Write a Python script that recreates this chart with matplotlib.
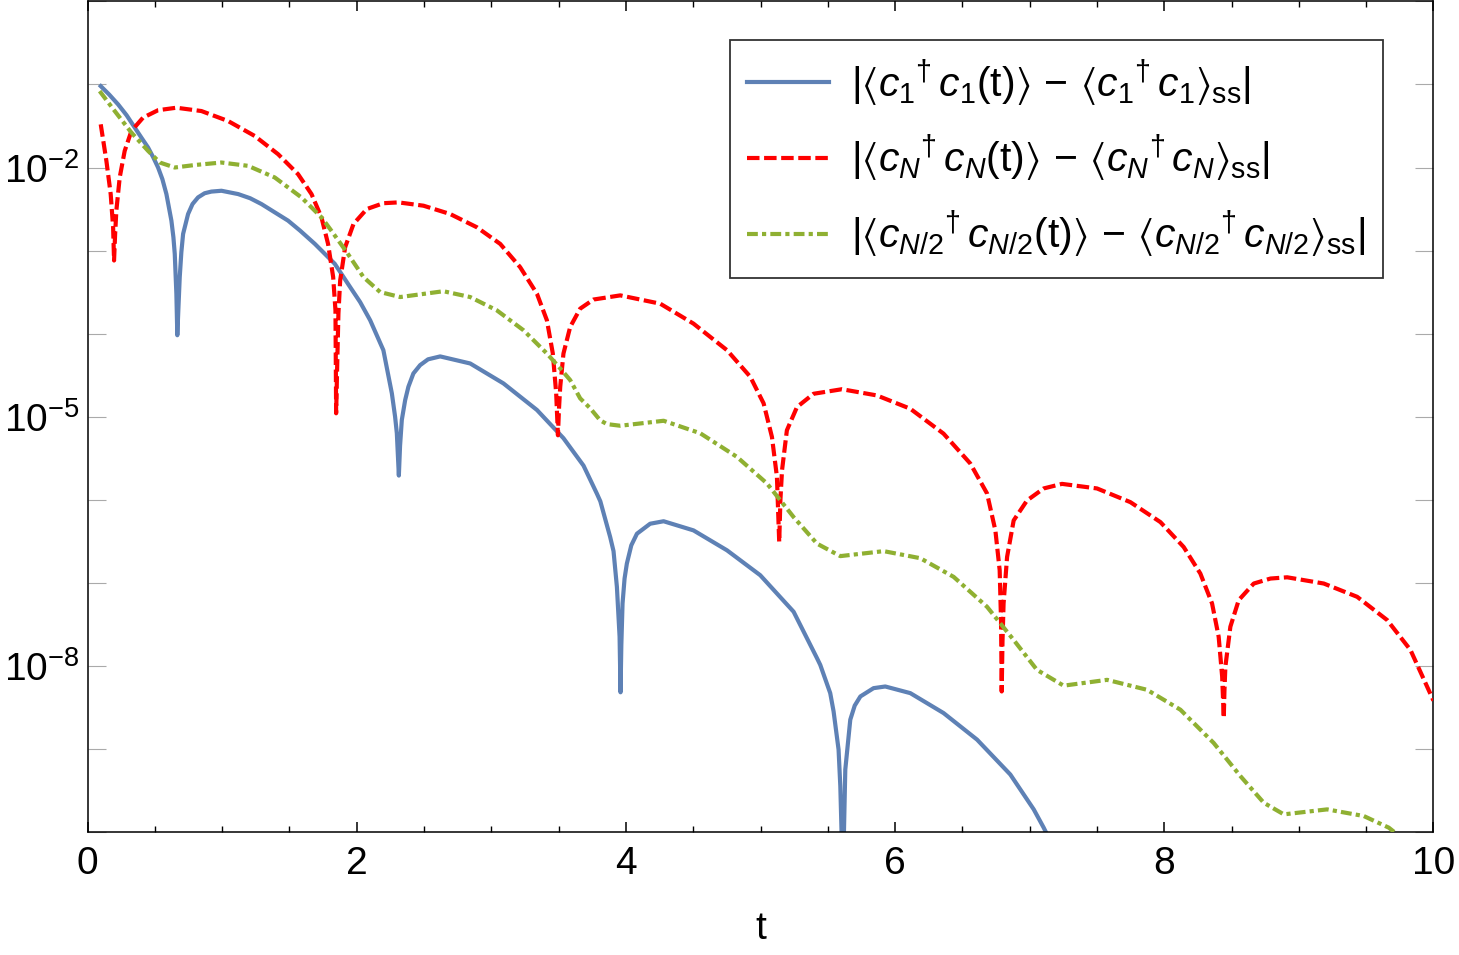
import numpy as np
import matplotlib

matplotlib.use("Agg")
import matplotlib.pyplot as plt
from matplotlib.ticker import FixedLocator, NullFormatter, FixedFormatter

# values: time t and log10 of the deviation
t_c1 = [0.098, 0.16, 0.227, 0.29, 0.351, 0.40, 0.45, 0.489, 0.524, 0.556,
        0.586, 0.623, 0.638, 0.648, 0.66, 0.667, 0.675, 0.685, 0.697, 0.71,
        0.747, 0.78, 0.821, 0.87, 0.92, 0.995, 1.119, 1.208, 1.292, 1.49,
        1.579, 1.689, 1.837, 1.951, 2.025, 2.1, 2.198, 2.261, 2.285, 2.298,
        2.313, 2.322, 2.335, 2.36, 2.384, 2.421, 2.471, 2.53, 2.62, 2.843,
        3.09, 3.339, 3.536, 3.685, 3.785, 3.81, 3.883, 3.908, 3.933, 3.953,
        3.960, 3.966, 3.975, 3.99, 4.007, 4.04, 4.082, 4.18, 4.28, 4.502,
        4.751, 4.998, 5.246, 5.42, 5.444, 5.518, 5.543, 5.58, 5.593, 5.612,
        5.63, 5.667, 5.70, 5.742, 5.84, 5.927, 6.113, 6.36, 6.609, 6.856,
        7.03, 7.104, 7.15]
logy_c1 = [-1.02, -1.12, -1.24, -1.37, -1.52, -1.64, -1.76, -1.88, -2.0, -2.14,
           -2.32, -2.64, -2.84, -3.04, -3.52, -4.02, -3.7, -3.32, -3.02, -2.80,
           -2.56, -2.44, -2.36, -2.31, -2.29, -2.28, -2.32, -2.37, -2.44, -2.64,
           -2.76, -2.92, -3.16, -3.44, -3.62, -3.84, -4.20, -4.72, -5.0, -5.20,
           -5.71, -5.35, -5.04, -4.80, -4.64, -4.48, -4.38, -4.31, -4.275, -4.36,
           -4.60, -4.92, -5.26, -5.59, -5.93, -6.02, -6.45, -6.62, -7.05, -7.65,
           -8.32, -7.75, -7.25, -6.95, -6.77, -6.55, -6.41, -6.29, -6.26, -6.37,
           -6.61, -6.91, -7.35, -7.91, -7.99, -8.33, -8.55, -9.01, -9.45, -10.6,
           -9.25, -8.65, -8.48, -8.37, -8.27, -8.25, -8.33, -8.57, -8.89, -9.31,
           -9.73, -9.95, -10.1]

t_cN = [0.098, 0.14, 0.172, 0.19, 0.197, 0.205, 0.214, 0.239, 0.276, 0.326,
        0.412, 0.524, 0.66, 0.846, 1.044, 1.242, 1.416, 1.564, 1.664, 1.738,
        1.787, 1.825, 1.842, 1.847, 1.856, 1.864, 1.877, 1.914, 1.976, 2.075,
        2.198, 2.31, 2.496, 2.694, 2.893, 3.066, 3.214, 3.339, 3.413, 3.457,
        3.482, 3.495, 3.503, 3.512, 3.536, 3.586, 3.66, 3.759, 3.958, 4.255,
        4.502, 4.751, 4.924, 5.023, 5.085, 5.122, 5.139, 5.148, 5.16, 5.196,
        5.271, 5.394, 5.605, 5.865, 6.113, 6.36, 6.559, 6.683, 6.745, 6.777,
        6.787, 6.792, 6.798, 6.806, 6.832, 6.881, 6.98, 7.104, 7.24, 7.50,
        7.748, 7.971, 8.144, 8.268, 8.355, 8.404, 8.43, 8.442, 8.447, 8.454,
        8.491, 8.553, 8.665, 8.789, 8.913, 9.185, 9.433, 9.656, 9.829, 10.0]
logy_cN = [-1.48, -1.92, -2.32, -2.72, -3.12, -2.8, -2.52, -2.12, -1.80, -1.56,
           -1.40, -1.31, -1.28, -1.32, -1.44, -1.62, -1.84, -2.08, -2.32, -2.60,
           -2.92, -3.32, -3.72, -4.96, -4.3, -3.76, -3.36, -2.96, -2.68, -2.50,
           -2.43, -2.42, -2.46, -2.56, -2.72, -2.92, -3.20, -3.52, -3.84, -4.24,
           -4.72, -5.225, -4.9, -4.64, -4.24, -3.92, -3.70, -3.59, -3.54, -3.64,
           -3.88, -4.20, -4.52, -4.84, -5.245, -5.725, -6.51, -6.0, -5.645, -5.165,
           -4.885, -4.725, -4.67, -4.745, -4.905, -5.205, -5.565, -5.925, -6.37, -6.85,
           -7.45, -8.31, -7.7, -7.25, -6.69, -6.25, -6.01, -5.865, -5.81, -5.865,
           -6.03, -6.27, -6.57, -6.89, -7.25, -7.65, -8.13, -8.63, -8.3, -8.01,
           -7.53, -7.21, -7.01, -6.95, -6.935, -7.01, -7.17, -7.45, -7.81, -8.42]

t_cmid = [0.09, 0.202, 0.326, 0.45, 0.537, 0.648, 0.797, 0.995, 1.193, 1.391,
          1.589, 1.738, 1.802, 1.926, 2.05, 2.174, 2.323, 2.644, 2.843, 3.041,
          3.239, 3.413, 3.512, 3.586, 3.66, 3.735, 3.809, 3.859, 3.958, 4.28,
          4.552, 4.825, 5.048, 5.246, 5.42, 5.593, 5.915, 6.187, 6.435, 6.683,
          6.881, 7.054, 7.252, 7.575, 7.872, 8.12, 8.367, 8.566, 8.739, 8.888,
          9.21, 9.482, 9.668, 9.8]
logy_cmid = [-1.08, -1.32, -1.58, -1.80, -1.94, -2.0, -1.97, -1.94, -1.98, -2.12,
             -2.36, -2.60, -2.74, -3.02, -3.32, -3.50, -3.56, -3.49, -3.56, -3.72,
             -3.96, -4.24, -4.42, -4.56, -4.78, -4.90, -5.045, -5.09, -5.11, -5.05,
             -5.20, -5.485, -5.805, -6.21, -6.53, -6.68, -6.62, -6.705, -6.93, -7.29,
             -7.69, -8.05, -8.24, -8.17, -8.29, -8.53, -8.93, -9.33, -9.65, -9.79,
             -9.73, -9.81, -9.95, -10.12]

labels = [
    r"$|\langle c_1{}^{\dagger}\, c_1(\mathrm{t})\rangle\,-\,\langle c_1{}^{\dagger}\, c_1\rangle_{\mathrm{ss}}|$",
    r"$|\langle c_N{}^{\dagger}\, c_N(\mathrm{t})\rangle\,-\,\langle c_N{}^{\dagger}\, c_N\rangle_{\mathrm{ss}}|$",
    r"$|\langle c_{N/2}{}^{\dagger}\, c_{N/2}(\mathrm{t})\rangle\,-\,\langle c_{N/2}{}^{\dagger}\, c_{N/2}\rangle_{\mathrm{ss}}|$",
]

plt.rcParams["font.family"] = ["Liberation Sans", "DejaVu Sans"]
plt.rcParams["mathtext.fontset"] = "custom"
plt.rcParams["mathtext.rm"] = "Liberation Sans"
plt.rcParams["mathtext.it"] = "Liberation Sans:italic"
plt.rcParams["mathtext.fallback"] = "stixsans"

fig = plt.figure(figsize=(14.59, 9.55), dpi=100)
ax = fig.add_axes([0.06, 0.129, 0.9225, 0.8695])

lw = 3.0
ax.plot(t_c1, 10.0 ** np.array(logy_c1), color="#5E81B5", lw=lw, zorder=2,
        label=labels[0])
ax.plot(t_cN, 10.0 ** np.array(logy_cN), color="#FF0000", lw=lw, zorder=3,
        dashes=(3.0, 1.1), label=labels[1])
ax.plot(t_cmid, 10.0 ** np.array(logy_cmid), color="#8FB032", lw=lw, zorder=4,
        dashes=(2.6, 1.0, 1.0, 1.0), label=labels[2])

ax.set_yscale("log")
ax.set_xlim(0, 10)
ax.set_ylim(1e-10, 1.0)

ax.set_xticks([0, 2, 4, 6, 8, 10])
ax.set_xticks(np.arange(0, 10.01, 0.5), minor=True)
ax.tick_params(axis="x", which="major", direction="in", length=7, width=1.1,
               top=True, labelsize=28, pad=10, colors="black")
ax.tick_params(axis="x", which="minor", direction="in", length=4, width=1.0,
               top=True)

ax.yaxis.set_major_locator(FixedLocator([1e-2, 1e-5, 1e-8]))
ax.yaxis.set_major_formatter(FixedFormatter(
    [r"$\mathregular{10^{-2}}$", r"$\mathregular{10^{-5}}$", r"$\mathregular{10^{-8}}$"]))
ax.yaxis.set_minor_locator(FixedLocator([10.0 ** k for k in range(-10, 1)
                                         if k not in (-2, -5, -8)]))
ax.yaxis.set_minor_formatter(NullFormatter())
ax.tick_params(axis="y", which="both", direction="in", length=13, width=0.8,
               right=True, color="#AAAAAA", labelsize=28, pad=6,
               labelcolor="black")

for sp in ax.spines.values():
    sp.set_linewidth(1.1)
    sp.set_color("black")

ax.set_xlabel("t", fontsize=28, labelpad=21)

leg = ax.legend(loc="upper right", bbox_to_anchor=(1383 / 1459, 1 - 40 / 955),
                bbox_transform=fig.transFigure, fontsize=29.5, frameon=True,
                fancybox=False, handlelength=2.0, handletextpad=0.55,
                labelspacing=0.6, borderpad=0.42, borderaxespad=0)
leg.get_frame().set_edgecolor("black")
leg.get_frame().set_linewidth(1.3)

fig.savefig("out.png", dpi=100)
